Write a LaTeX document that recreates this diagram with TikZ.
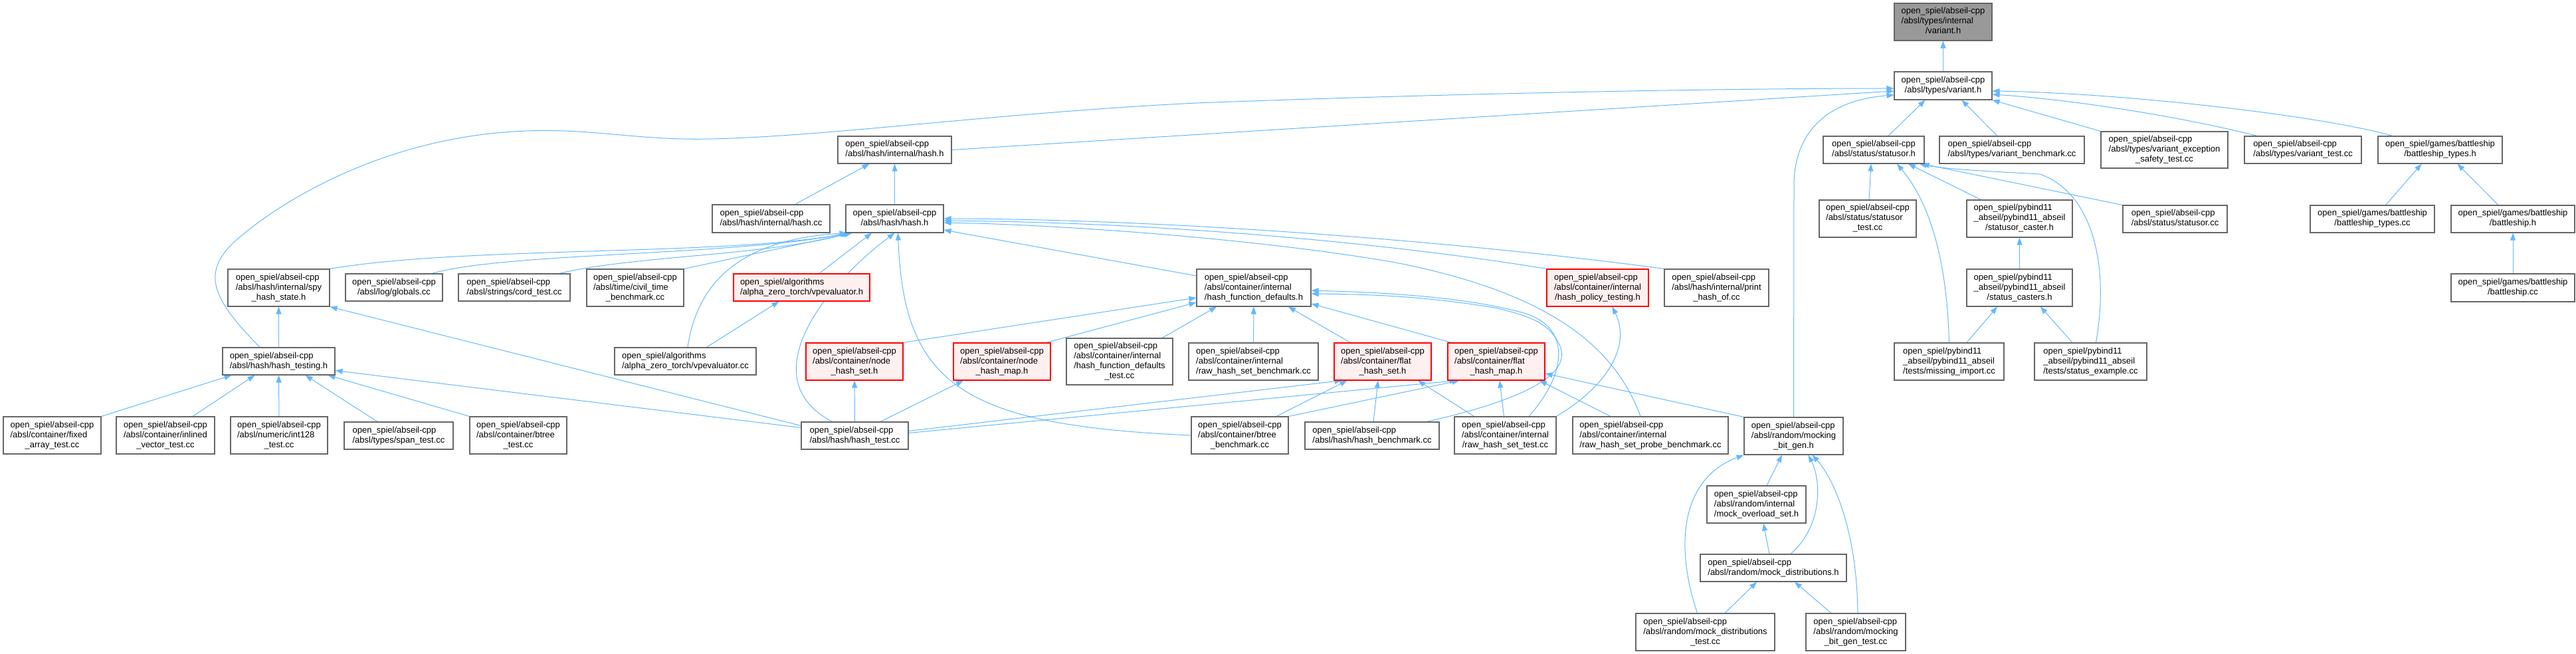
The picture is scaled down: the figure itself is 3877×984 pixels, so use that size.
\documentclass[tikz,border=0pt]{standalone}
\usepackage{fontspec}
\setmainfont{Liberation Sans}
\usetikzlibrary{arrows.meta,backgrounds}
\definecolor{linkblue}{HTML}{63B8FF}
\definecolor{frame}{HTML}{666666}
\definecolor{pinkfill}{HTML}{FFF0F0}
\definecolor{selfill}{HTML}{999999}
\newcommand{\flab}[2]{\begin{tabular}{@{}l@{}}#1\\\multicolumn{1}{@{}c@{}}{#2}\end{tabular}}
\begin{document}
\begin{tikzpicture}[x=1pt, y=-1pt, >={Triangle[length=11pt,width=8pt]},
  box/.style={draw=frame, line width=1.1pt, fill=white, inner sep=0pt, font=\fontsize{13}{15}\selectfont},
  trunc/.style={box, draw=red, fill=pinkfill},
  dep/.style={->, draw=linkblue, line width=1pt}]
\useasboundingbox (0,0) rectangle (3877,984);
\node[box, fill=selfill, minimum width=147pt, minimum height=56pt] (vi) at (2924.5,33) {\flab{open\_spiel/abseil-cpp\\/absl/types/internal}{/variant.h}};
\node[box, minimum width=147pt, minimum height=42pt] (vh) at (2924.5,129) {\flab{open\_spiel/abseil-cpp}{/absl/types/variant.h}};
\node[box, minimum width=171pt, minimum height=41pt] (ih) at (1346.5,225.5) {\flab{open\_spiel/abseil-cpp}{/absl/hash/internal/hash.h}};
\node[box, minimum width=152pt, minimum height=41pt] (so) at (2820,225.5) {\flab{open\_spiel/abseil-cpp}{/absl/status/statusor.h}};
\node[box, minimum width=218pt, minimum height=41pt] (vb) at (3028,225.5) {\flab{open\_spiel/abseil-cpp}{/absl/types/variant\_benchmark.cc}};
\node[box, minimum width=191pt, minimum height=55pt] (vx) at (3257.5,225.5) {\flab{open\_spiel/abseil-cpp\\/absl/types/variant\_exception}{\_safety\_test.cc}};
\node[box, minimum width=176pt, minimum height=41pt] (vt) at (3466,225.5) {\flab{open\_spiel/abseil-cpp}{/absl/types/variant\_test.cc}};
\node[box, minimum width=187pt, minimum height=41pt] (bh) at (3672.5,225.5) {\flab{open\_spiel/games/battleship}{/battleship\_types.h}};
\node[box, minimum width=177pt, minimum height=42pt] (hc) at (1160.5,329) {\flab{open\_spiel/abseil-cpp}{/absl/hash/internal/hash.cc}};
\node[box, minimum width=147pt, minimum height=42pt] (hh) at (1346.5,329) {\flab{open\_spiel/abseil-cpp}{/absl/hash/hash.h}};
\node[box, minimum width=146pt, minimum height=56pt] (st) at (2811,329) {\flab{open\_spiel/abseil-cpp\\/absl/status/statusor}{\_test.cc}};
\node[box, minimum width=159pt, minimum height=56pt] (sc) at (3039.5,329) {\flab{open\_spiel/pybind11\\\_abseil/pybind11\_abseil}{/statusor\_caster.h}};
\node[box, minimum width=157pt, minimum height=41pt] (sk) at (3273.5,329.5) {\flab{open\_spiel/abseil-cpp}{/absl/status/statusor.cc}};
\node[box, minimum width=187pt, minimum height=41pt] (bc) at (3570.5,329.5) {\flab{open\_spiel/games/battleship}{/battleship\_types.cc}};
\node[box, minimum width=186pt, minimum height=41pt] (bs) at (3782,329.5) {\flab{open\_spiel/games/battleship}{/battleship.h}};
\node[box, minimum width=153pt, minimum height=56pt] (sp) at (419.5,433) {\flab{open\_spiel/abseil-cpp\\/absl/hash/internal/spy}{\_hash\_state.h}};
\node[box, minimum width=146pt, minimum height=41pt] (gl) at (593,432.5) {\flab{open\_spiel/abseil-cpp}{/absl/log/globals.cc}};
\node[box, minimum width=168pt, minimum height=41pt] (ct) at (774,432.5) {\flab{open\_spiel/abseil-cpp}{/absl/strings/cord\_test.cc}};
\node[box, minimum width=146pt, minimum height=56pt] (cv) at (956,433) {\flab{open\_spiel/abseil-cpp\\/absl/time/civil\_time}{\_benchmark.cc}};
\node[trunc, minimum width=205pt, minimum height=41pt] (vp) at (1206.5,432.5) {\flab{open\_spiel/algorithms}{/alpha\_zero\_torch/vpevaluator.h}};
\node[box, minimum width=172pt, minimum height=56pt] (fd) at (1887,433) {\flab{open\_spiel/abseil-cpp\\/absl/container/internal}{/hash\_function\_defaults.h}};
\node[trunc, minimum width=153pt, minimum height=56pt] (hp) at (2404.5,433) {\flab{open\_spiel/abseil-cpp\\/absl/container/internal}{/hash\_policy\_testing.h}};
\node[box, minimum width=157pt, minimum height=56pt] (ph) at (2583.5,433) {\flab{open\_spiel/abseil-cpp\\/absl/hash/internal/print}{\_hash\_of.cc}};
\node[box, minimum width=159pt, minimum height=56pt] (cs) at (3039.5,433) {\flab{open\_spiel/pybind11\\\_abseil/pybind11\_abseil}{/status\_casters.h}};
\node[box, minimum width=186pt, minimum height=42pt] (bk) at (3782,433) {\flab{open\_spiel/games/battleship}{/battleship.cc}};
\node[box, minimum width=169pt, minimum height=41pt] (tg) at (419.5,543.5) {\flab{open\_spiel/abseil-cpp}{/absl/hash/hash\_testing.h}};
\node[box, minimum width=213pt, minimum height=41pt] (vc) at (1031.5,543.5) {\flab{open\_spiel/algorithms}{/alpha\_zero\_torch/vpevaluator.cc}};
\node[trunc, minimum width=146pt, minimum height=56pt] (ns) at (1286,544) {\flab{open\_spiel/abseil-cpp\\/absl/container/node}{\_hash\_set.h}};
\node[trunc, minimum width=146pt, minimum height=56pt] (nm) at (1508,544) {\flab{open\_spiel/abseil-cpp\\/absl/container/node}{\_hash\_map.h}};
\node[box, minimum width=160pt, minimum height=70pt] (ft) at (1685,544) {\flab{open\_spiel/abseil-cpp\\/absl/container/internal\\/hash\_function\_defaults}{\_test.cc}};
\node[box, minimum width=195pt, minimum height=56pt] (rb) at (1886.5,544) {\flab{open\_spiel/abseil-cpp\\/absl/container/internal}{/raw\_hash\_set\_benchmark.cc}};
\node[trunc, minimum width=146pt, minimum height=56pt] (fs) at (2081,544) {\flab{open\_spiel/abseil-cpp\\/absl/container/flat}{\_hash\_set.h}};
\node[trunc, minimum width=146pt, minimum height=56pt] (fm) at (2252,544) {\flab{open\_spiel/abseil-cpp\\/absl/container/flat}{\_hash\_map.h}};
\node[box, minimum width=165pt, minimum height=56pt] (mi) at (2933.5,544) {\flab{open\_spiel/pybind11\\\_abseil/pybind11\_abseil}{/tests/missing\_import.cc}};
\node[box, minimum width=169pt, minimum height=56pt] (se) at (3146.5,544) {\flab{open\_spiel/pybind11\\\_abseil/pybind11\_abseil}{/tests/status\_example.cc}};
\node[box, minimum width=147pt, minimum height=56pt] (fa) at (78.5,655) {\flab{open\_spiel/abseil-cpp\\/absl/container/fixed}{\_array\_test.cc}};
\node[box, minimum width=148pt, minimum height=56pt] (iv) at (249,655) {\flab{open\_spiel/abseil-cpp\\/absl/container/inlined}{\_vector\_test.cc}};
\node[box, minimum width=146pt, minimum height=56pt] (i128) at (420,655) {\flab{open\_spiel/abseil-cpp\\/absl/numeric/int128}{\_test.cc}};
\node[box, minimum width=164pt, minimum height=41pt] (sn) at (600,655.5) {\flab{open\_spiel/abseil-cpp}{/absl/types/span\_test.cc}};
\node[box, minimum width=146pt, minimum height=56pt] (bt) at (780,655) {\flab{open\_spiel/abseil-cpp\\/absl/container/btree}{\_test.cc}};
\node[box, minimum width=161pt, minimum height=41pt] (ht) at (1286.5,655.5) {\flab{open\_spiel/abseil-cpp}{/absl/hash/hash\_test.cc}};
\node[box, minimum width=146pt, minimum height=56pt] (bb) at (1866,655) {\flab{open\_spiel/abseil-cpp\\/absl/container/btree}{\_benchmark.cc}};
\node[box, minimum width=202pt, minimum height=41pt] (hb) at (2065,655.5) {\flab{open\_spiel/abseil-cpp}{/absl/hash/hash\_benchmark.cc}};
\node[box, minimum width=153pt, minimum height=56pt] (rt) at (2265.5,655) {\flab{open\_spiel/abseil-cpp\\/absl/container/internal}{/raw\_hash\_set\_test.cc}};
\node[box, minimum width=234pt, minimum height=56pt] (pb) at (2484,655) {\flab{open\_spiel/abseil-cpp\\/absl/container/internal}{/raw\_hash\_set\_probe\_benchmark.cc}};
\node[box, minimum width=149pt, minimum height=56pt] (mb) at (2699.5,656) {\flab{open\_spiel/abseil-cpp\\/absl/random/mocking}{\_bit\_gen.h}};
\node[box, minimum width=149pt, minimum height=56pt] (mo) at (2643.5,759) {\flab{open\_spiel/abseil-cpp\\/absl/random/internal}{/mock\_overload\_set.h}};
\node[box, minimum width=220pt, minimum height=41pt] (md) at (2669,854.5) {\flab{open\_spiel/abseil-cpp}{/absl/random/mock\_distributions.h}};
\node[box, minimum width=209pt, minimum height=56pt] (mt) at (2566.5,951) {\flab{open\_spiel/abseil-cpp\\/absl/random/mock\_distributions}{\_test.cc}};
\node[box, minimum width=150pt, minimum height=56pt] (bg) at (2793,951) {\flab{open\_spiel/abseil-cpp\\/absl/random/mocking}{\_bit\_gen\_test.cc}};
\begin{scope}[on background layer]
\draw[dep] (vh) -- (vi);
\draw[dep] (ih.east) -- ([yshift=-8pt]vh.west);
\draw[dep] ([xshift=-28.5pt]tg.north) .. controls (320,450) and (300,410) .. (357,360) .. controls (414,310) and (560,215) .. (759,199) .. controls (880,189) and (950,212) .. (1071,209) .. controls (1250,205) and (1500,170) .. (1800,155) .. controls (2200,140) and (2600,133) .. ([yshift=-4pt]vh.west);
\draw[dep] (mb.north) -- (2700,280) .. controls (2700,190) and (2760,150) .. ([yshift=-14pt]vh.west);
\draw[dep] ([xshift=22pt]so.north) -- ([xshift=-27pt]vh.south);
\draw[dep] ([xshift=-22pt]vb.north) -- ([xshift=28pt]vh.south);
\draw[dep] (vx.north west) -- (vh.south east);
\draw[dep] ([xshift=-69pt]vt.north) .. controls (3280,175) and (3120,150) .. ([yshift=-13pt]vh.east);
\draw[dep] ([xshift=-72pt]bh.north) .. controls (3500,175) and (3200,140) .. ([yshift=-8pt]vh.east);
\draw[dep] ([xshift=36pt]hc.north) -- ([xshift=-38pt]ih.south);
\draw[dep] (hh) -- (ih);
\draw[dep] (sp.north east) .. controls (700,370) and (1100,385) .. ([xshift=3pt]hh.south west);
\draw[dep] ([xshift=57pt]gl.north) .. controls (760,380) and (1100,385) .. ([xshift=5pt]hh.south west);
\draw[dep] ([xshift=68pt]ct.north) .. controls (950,385) and (1150,385) .. ([xshift=7pt]hh.south west);
\draw[dep] (cv.north east) -- ([xshift=10pt]hh.south west);
\draw[dep] ([xshift=26.5pt]vp.north) -- ([xshift=-34.5pt]hh.south);
\draw[dep] ([xshift=3.5pt]vc.north) .. controls (1050,420) and (1120,360) .. ([xshift=2pt]hh.south west);
\draw[dep] ([xshift=32pt]vc.north) -- ([xshift=-34pt]vp.south);
\draw[dep] ([xshift=-34pt]ht.north) .. controls (1130,570) and (1240,430) .. (hh.south);
\draw[dep] (bb.west) .. controls (1450,640) and (1360,580) .. ([xshift=5pt]hh.south);
\draw[dep] ([yshift=18pt]fd.west) -- ([yshift=-17pt]hh.east);
\draw[dep] (hp.north west) .. controls (2150,375) and (1800,335) .. ([yshift=-3pt]hh.east);
\draw[dep] (ph.north west) .. controls (2250,370) and (1800,330) .. (hh.east);
\draw[dep] ([xshift=-15pt]pb.north) .. controls (2430,520) and (2330,440) .. (2100,395) .. controls (1900,360) and (1600,338) .. ([yshift=-6pt]hh.east);
\draw[dep] ([xshift=35.5pt]rt.north) .. controls (2360,560) and (2365,490) .. (2290,470) .. controls (2200,446) and (2080,440) .. ([yshift=-4pt]fd.east);
\draw[dep] ([xshift=82pt]hb.north) .. controls (2300,600) and (2372,560) .. (2345,515) .. controls (2330,485) and (2300,475) .. (2250,463) .. controls (2150,447) and (2080,443) .. ([yshift=-9pt]fd.east);
\draw[dep] (rt.north east) .. controls (2420,580) and (2455,520) .. ([xshift=22pt]hp.south);
\draw[dep] (ns.north east) -- ([yshift=-15pt]fd.west);
\draw[dep] ([xshift=-7pt]nm.north east) -- ([yshift=-22pt]fd.west);
\draw[dep] ([xshift=64pt]ft.north) -- ([xshift=-56pt]fd.south);
\draw[dep] (rb) -- (fd);
\draw[dep] ([xshift=25pt]fs.north west) -- ([xshift=52pt]fd.south);
\draw[dep] ([xshift=6pt]fm.north west) -- ([yshift=-24pt]fd.east);
\draw[dep] ([yshift=7pt]ht.east) -- ([xshift=12pt]fs.south west);
\draw[dep] ([yshift=4pt]ht.east) -- ([xshift=14pt]fm.south west);
\draw[dep] ([xshift=55pt]bb.north) -- ([xshift=20pt]fs.south west);
\draw[dep] (bb.north east) -- ([xshift=18pt]fm.south west);
\draw[dep] ([xshift=2pt]hb.north) -- ([xshift=-7pt]fs.south);
\draw[dep] ([xshift=-47pt]rt.north) -- ([xshift=53pt]fs.south);
\draw[dep] ([xshift=-2pt]rt.north) -- ([xshift=5pt]fm.south);
\draw[dep] ([xshift=-60pt]pb.north) -- ([xshift=65pt]fm.south);
\draw[dep] (mb.north west) -- ([yshift=-18pt]fm.east);
\draw[dep] (fa.north east) -- ([xshift=-71pt]tg.south);
\draw[dep] ([xshift=41pt]iv.north) -- ([xshift=-36pt]tg.south);
\draw[dep] (i128) -- (tg);
\draw[dep] ([xshift=-32pt]sn.north) -- ([xshift=40pt]tg.south);
\draw[dep] (bt.north west) -- ([xshift=74pt]tg.south);
\draw[dep] (tg) -- (sp);
\draw[dep] ([yshift=12pt]ht.west) -- ([yshift=-14pt]tg.east);
\draw[dep] ([yshift=15pt]ht.west) -- (sp.south east);
\draw[dep] (ht) -- (ns);
\draw[dep] ([xshift=38.5pt]ht.north) -- ([xshift=-58pt]nm.south);
\draw[dep] ([xshift=2pt]st.north) -- ([xshift=-4pt]so.south);
\draw[dep] ([xshift=-58pt]sc.north) -- ([xshift=52pt]so.south);
\draw[dep] (sk.north west) -- ([xshift=-4pt]so.south east);
\draw[dep] (mi.north) .. controls (2930,380) and (2900,300) .. ([xshift=35pt]so.south);
\draw[dep] ([xshift=8pt]se.north) .. controls (3175,400) and (3150,290) .. (3070,262) .. controls (3000,258) and (2930,255) .. ([xshift=-8pt]so.south east);
\draw[dep] (cs) -- (sc);
\draw[dep] ([xshift=26.5pt]mi.north) -- ([xshift=-33.5pt]cs.south);
\draw[dep] ([xshift=-27.5pt]se.north) -- ([xshift=31.5pt]cs.south);
\draw[dep] ([xshift=15.5pt]mo.north) -- ([xshift=-17.5pt]mb.south);
\draw[dep] ([xshift=-6pt]md.north) -- ([xshift=10.5pt]mo.south);
\draw[dep] ([xshift=26pt]md.north) .. controls (2745,790) and (2740,720) .. ([xshift=22pt]mb.south);
\draw[dep] ([xshift=-12pt]mt.north) .. controls (2520,820) and (2530,720) .. (mb.south west);
\draw[dep] ([xshift=3pt]bg.north) .. controls (2795,800) and (2760,720) .. ([xshift=28pt]mb.south);
\draw[dep] ([xshift=29.5pt]mt.north) -- ([xshift=-25pt]md.south);
\draw[dep] ([xshift=-37pt]bg.north) -- ([xshift=32pt]md.south);
\draw[dep] ([xshift=20pt]bc.north) -- ([xshift=-28pt]bh.south);
\draw[dep] ([xshift=-22pt]bs.north) -- ([xshift=26pt]bh.south);
\draw[dep] (bk) -- (bs);
\end{scope}
\end{tikzpicture}
\end{document}
